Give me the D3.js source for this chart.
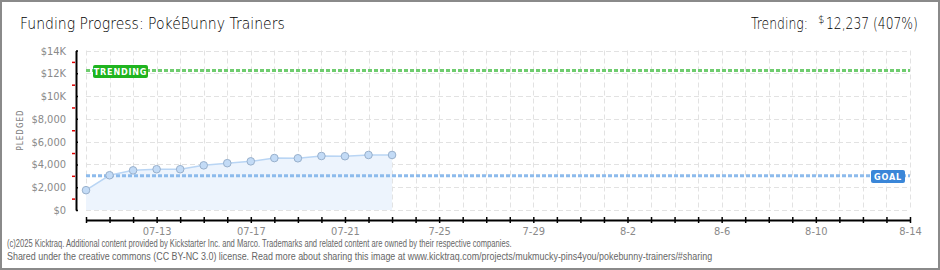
<!DOCTYPE html>
<html>
<head>
<meta charset="utf-8">
<script src="https://cdn.jsdelivr.net/npm/d3@7"></script>
<style>
  body { margin: 0; background: #fff; }
  svg { display: block; }
  text { font-family: "DejaVu Sans Condensed", "DejaVu Sans", sans-serif; }
</style>
</head>
<body>
<div id="chart"></div>
<script>
// daily pledged totals
const dates = ["2025-07-10", "2025-07-11", "2025-07-12", "2025-07-13", "2025-07-14", "2025-07-15", "2025-07-16",
               "2025-07-17", "2025-07-18", "2025-07-19", "2025-07-20", "2025-07-21", "2025-07-22", "2025-07-23"];
const pledged = [1740, 3050, 3480, 3580, 3580, 3920, 4110, 4270, 4560, 4540, 4740, 4720, 4830, 4830];

const goal = 3000;
const trending = 12237;
const trendingPct = "407%";

const xStart = "2025-07-10", xEnd = "2025-08-14";
const xLabelDates = ["2025-07-13", "2025-07-17", "2025-07-21", "2025-07-25", "2025-07-29", "2025-08-02", "2025-08-06", "2025-08-10", "2025-08-14"];
const xLabels = ["07-13", "07-17", "07-21", "7-25", "7-29", "8-2", "8-6", "8-10", "8-14"];
const yTicks = [0, 2000, 4000, 6000, 8000, 10000, 12000, 14000];
const yLabels = ["$0", "$2,000", "$4,000", "$6,000", "$8,000", "$10K", "$12K", "$14K"];
const yMinor = [1000, 3000, 5000, 7000, 9000, 11000, 13000];

const width = 940, height = 270;
const parse = d3.utcParse("%Y-%m-%d");

const svg = d3.select("#chart").append("svg")
  .attr("width", width)
  .attr("height", height);

// frame
svg.append("rect")
  .attr("x", 1).attr("y", 1)
  .attr("width", width - 2).attr("height", height - 2)
  .attr("fill", "#fff")
  .attr("stroke", "#8a8a8a")
  .attr("stroke-width", 2);

const x = d3.scaleUtc()
  .domain([parse(xStart), parse(xEnd)])
  .range([86, 910]);

const y = d3.scaleLinear()
  .domain([0, 14000])
  .range([210, 50.5]);

const days = d3.utcDay.range(parse(xStart), d3.utcDay.offset(parse(xEnd), 1));

// grid
const grid = svg.append("g")
  .attr("stroke", "#e2e2e2")
  .attr("stroke-width", 1)
  .attr("stroke-dasharray", "5,3");

grid.selectAll(".vg")
  .data(days)
  .join("line")
  .attr("x1", d => Math.round(x(d)) + 0.5)
  .attr("x2", d => Math.round(x(d)) + 0.5)
  .attr("y1", y(14000))
  .attr("y2", y(0));

grid.selectAll(".hg")
  .data(yTicks)
  .join("line")
  .attr("x1", x.range()[0])
  .attr("x2", x.range()[1])
  .attr("y1", d => Math.round(y(d)) + 0.5)
  .attr("y2", d => Math.round(y(d)) + 0.5);

const series = dates.map((d, i) => ({ date: parse(d), value: pledged[i] }));

// area + line
svg.append("path")
  .datum(series)
  .attr("fill", "#edf4fd")
  .attr("d", d3.area().x(d => x(d.date)).y0(y(0)).y1(d => y(d.value)));

svg.append("path")
  .datum(series)
  .attr("fill", "none")
  .attr("stroke", "#b9d5f4")
  .attr("stroke-width", 1.5)
  .attr("d", d3.line().x(d => x(d.date)).y(d => y(d.value)));

// goal and trending lines
svg.append("line")
  .attr("x1", x.range()[0]).attr("x2", x.range()[1])
  .attr("y1", y(goal)).attr("y2", y(goal))
  .attr("stroke", "#8dbbec")
  .attr("stroke-width", 3)
  .attr("stroke-dasharray", "4,2");

svg.append("line")
  .attr("x1", x.range()[0]).attr("x2", x.range()[1])
  .attr("y1", y(trending)).attr("y2", y(trending))
  .attr("stroke", "#6fcc6f")
  .attr("stroke-width", 3)
  .attr("stroke-dasharray", "4,2");

// points
svg.selectAll(".pt")
  .data(series)
  .join("circle")
  .attr("cx", d => x(d.date))
  .attr("cy", d => y(d.value))
  .attr("r", 3.8)
  .attr("fill", "#c3dbf6")
  .attr("stroke", "#98b0cc")
  .attr("stroke-width", 1);

// labels on lines
function tag(xPos, yVal, w, txt, color) {
  const g = svg.append("g").attr("transform", `translate(${xPos},${Math.round(y(yVal)) - 6})`);
  g.append("rect")
    .attr("width", w).attr("height", 13)
    .attr("rx", 2)
    .attr("fill", color);
  g.append("text")
    .attr("x", w / 2).attr("y", 10)
    .attr("text-anchor", "middle")
    .attr("fill", "#fff")
    .style("font-size", "9px")
    .style("font-weight", "bold")
    .style("letter-spacing", "0.8px")
    .text(txt);
}
tag(93, trending, 55, "TRENDING", "#1fb41f");
tag(871, goal, 34, "GOAL", "#3a86d8");

// y axis
const yAxis = svg.append("g")
  .attr("transform", "translate(76,0)")
  .call(d3.axisLeft(y).tickValues(yTicks).tickSizeOuter(0).tickSizeInner(3).tickPadding(7)
    .tickFormat((d, i) => yLabels[i]));
yAxis.select(".domain").attr("stroke", "#000").attr("stroke-width", 2);
yAxis.selectAll(".tick line").attr("x2", 2).attr("stroke-width", 1.5);
yAxis.selectAll("text")
  .attr("fill", "#8a8a8a")
  .style("font-size", "11px");

svg.append("g")
  .attr("transform", "translate(75,0)")
  .call(d3.axisLeft(y).tickValues(yMinor).tickSizeOuter(0).tickSizeInner(3).tickFormat(""))
  .call(g => g.select(".domain").remove())
  .selectAll(".tick line")
  .attr("stroke", "#e00000")
  .attr("stroke-width", 1.5);

// x axis
const xAxis = svg.append("g")
  .attr("transform", "translate(0,220)")
  .call(d3.axisBottom(x).tickValues(days).tickSizeOuter(0).tickSizeInner(3).tickPadding(4)
    .tickFormat(d => {
      const i = xLabelDates.findIndex(s => +parse(s) === +d);
      return i >= 0 ? xLabels[i] : "";
    }));
xAxis.select(".domain").attr("stroke", "#000").attr("stroke-width", 2);
xAxis.selectAll(".tick line").attr("y1", -3).attr("stroke-width", 1.5);
xAxis.selectAll("text")
  .attr("fill", "#8a8a8a")
  .style("font-size", "11px");

// axis title
svg.append("text")
  .attr("transform", "translate(23,130) rotate(-90)")
  .attr("text-anchor", "middle")
  .attr("fill", "#7a7a7a")
  .style("font-size", "8px")
  .style("letter-spacing", "1px")
  .text("PLEDGED");

// header: light text squeezed horizontally to the reference widths
function headText(txt, x0, base, w, size) {
  const t = svg.append("text")
    .attr("fill", "#000")
    .style("font-family", "'DejaVu Sans', sans-serif")
    .style("font-weight", "200")
    .style("font-size", size + "px")
    .text(txt);
  const k = w ? w / t.node().getComputedTextLength() : 1;
  t.attr("transform", `translate(${x0},${base}) scale(${k},1)`);
  return t;
}
headText("Funding Progress: PokéBunny Trainers", 20, 29, 265, 16);
headText("Trending:", 751, 29, 57, 16);
headText("$", 818, 23, 0, 10);
headText(d3.format(",")(trending) + " (" + trendingPct + ")", 826, 29, 92, 16);

// footer
const footer = [
  "(c)2025 Kicktraq. Additional content provided by Kickstarter Inc. and Marco. Trademarks and related content are owned by their respective companies.",
  "Shared under the creative commons (CC BY-NC 3.0) license. Read more about sharing this image at www.kicktraq.com/projects/mukmucky-pins4you/pokebunny-trainers/#sharing"
];
const footerWidths = [505, 706];
svg.selectAll(".foot")
  .data(footer)
  .join("text")
  .attr("fill", "#666")
  .style("font-family", "'Liberation Sans Narrow', sans-serif")
  .style("font-size", "10.5px")
  .text(d => d)
  .attr("transform", function (d, i) {
    const k = footerWidths[i] / this.getComputedTextLength();
    return `translate(7,${247 + i * 13}) scale(${k},1)`;
  });
</script>
</body>
</html>
